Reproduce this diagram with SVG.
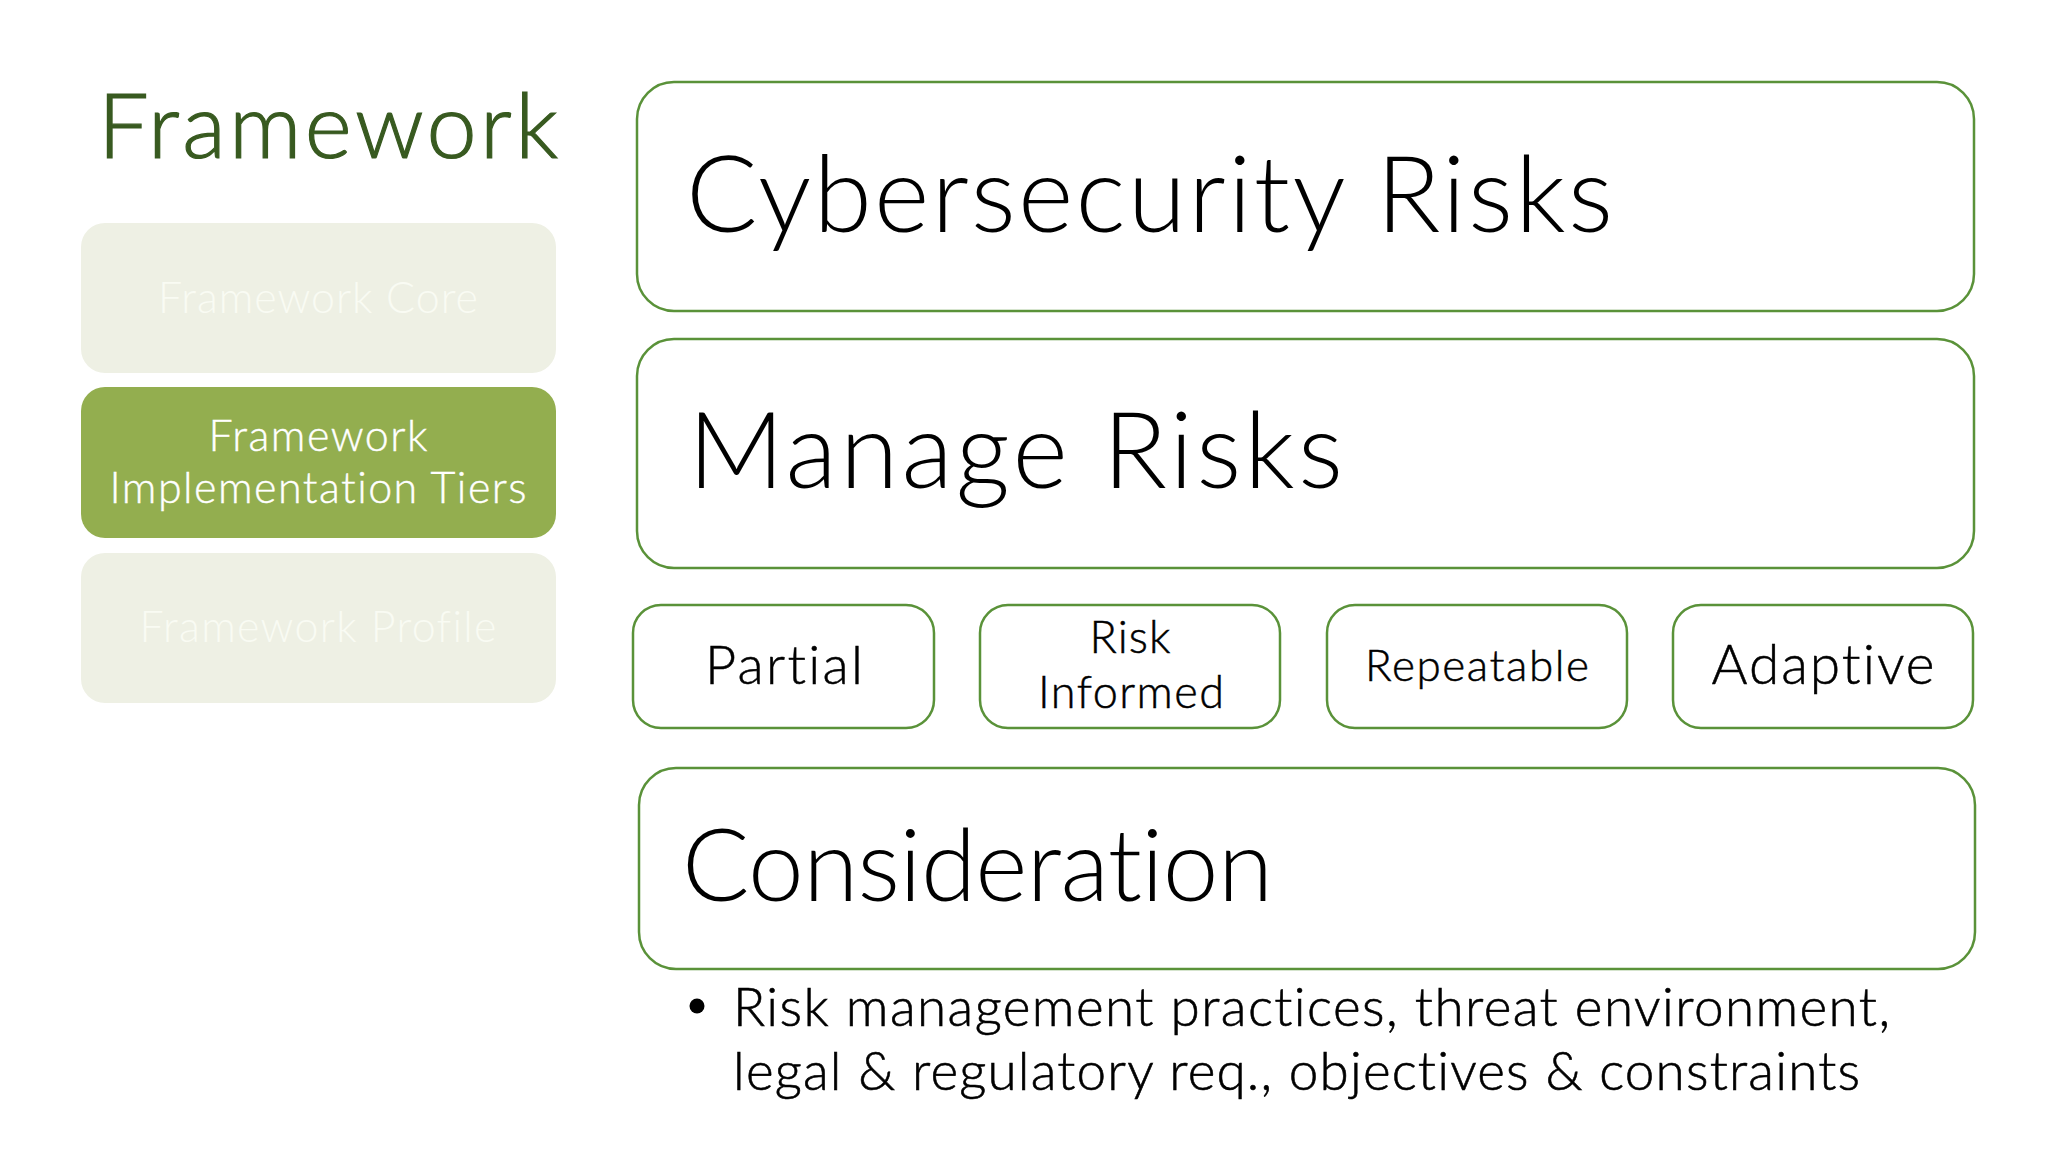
<svg xmlns="http://www.w3.org/2000/svg" width="2048" height="1152" viewBox="0 0 2048 1152">
  <style>
    text { font-family: Lato, "Open Sans", "Liberation Sans", sans-serif; font-variant-ligatures: none; font-feature-settings: "liga" 0, "clig" 0; }
    .title { font-size: 90px; fill: #385a20; stroke: #385a20; stroke-width: 1.2; font-weight: 300; }
    .faint { fill: #eef0e4; }
    .active { fill: #93ae4f; }
    .sidetxt { font-size: 43px; text-anchor: middle; font-weight: 300; }
    .faintTxt { fill: #f9fbf3; }
    .activeTxt { fill: #ffffff; stroke: #ffffff; stroke-width: 0.4; }
    .box { fill: #ffffff; stroke: #5a9239; stroke-width: 2.5; }
    .big { font-size: 106px; fill: #000000; font-weight: 300; }
    .tier { font-size: 45px; fill: #000000; stroke: #000000; stroke-width: 0.5; text-anchor: middle; font-weight: 300; }
    .body { font-size: 53px; fill: #000000; stroke: #000000; stroke-width: 0.6; font-weight: 300; }
  </style>
  <rect width="2048" height="1152" fill="#ffffff"/>

  <g id="title">
    <text class="title" x="98" y="158" textLength="460">Framework</text>
  </g>

  <g id="framework-core">
    <rect class="faint" x="81" y="223" width="475" height="150" rx="24"/>
    <text class="sidetxt faintTxt" x="318" y="313" textLength="320">Framework Core</text>
  </g>
  <g id="framework-tiers">
    <rect class="active" x="81" y="387" width="475" height="151" rx="24"/>
    <text class="sidetxt activeTxt" x="318" y="451" textLength="219">Framework</text>
    <text class="sidetxt activeTxt" x="318" y="503" textLength="417">Implementation Tiers</text>
  </g>
  <g id="framework-profile">
    <rect class="faint" x="81" y="553" width="475" height="150" rx="24"/>
    <text class="sidetxt faintTxt" x="318" y="642" textLength="357">Framework Profile</text>
  </g>

  <g id="cybersecurity-risks">
    <rect class="box" x="637" y="82" width="1337" height="229" rx="37"/>
    <text class="big" x="686" y="232" textLength="927">Cybersecurity Risks</text>
  </g>
  <g id="manage-risks">
    <rect class="box" x="637" y="339" width="1337" height="229" rx="37"/>
    <text class="big" x="688" y="488" textLength="655">Manage Risks</text>
  </g>

  <g id="tier-partial">
    <rect class="box" x="633" y="605" width="301" height="123" rx="28"/>
    <text class="tier" x="784" y="684" style="font-size:54px" textLength="158">Partial</text>
  </g>
  <g id="tier-risk-informed">
    <rect class="box" x="980" y="605" width="300" height="123" rx="28"/>
    <text class="tier" x="1130" y="653" textLength="81">Risk</text>
    <text class="tier" x="1131" y="708" textLength="186">Informed</text>
  </g>
  <g id="tier-repeatable">
    <rect class="box" x="1327" y="605" width="300" height="123" rx="28"/>
    <text class="tier" x="1477" y="681" style="font-size:44px" textLength="224">Repeatable</text>
  </g>
  <g id="tier-adaptive">
    <rect class="box" x="1673" y="605" width="300" height="123" rx="28"/>
    <text class="tier" x="1823" y="684" style="font-size:55px" textLength="223">Adaptive</text>
  </g>

  <g id="consideration">
    <rect class="box" x="639" y="768" width="1336" height="201" rx="37"/>
    <text class="big" x="682" y="901" style="font-size:100px" textLength="591">Consideration</text>
  </g>

  <g id="consideration-detail">
    <circle cx="697" cy="1006" r="7.5" fill="#000000"/>
    <text class="body" x="733" y="1026" textLength="1157">Risk management practices, threat environment,</text>
    <text class="body" x="733" y="1090" textLength="1127">legal &amp; regulatory req., objectives &amp; constraints</text>
  </g>

  <g id="connectors"></g>
</svg>
